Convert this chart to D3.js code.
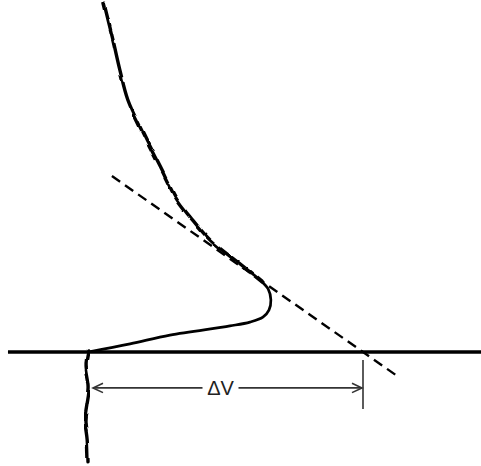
<!DOCTYPE html>
<html>
<head>
<meta charset="utf-8">
<script src="https://cdn.jsdelivr.net/npm/d3@7"></script>
<style>
  html, body { margin: 0; padding: 0; background: #fff; }
  svg { display: block; }
</style>
</head>
<body>
<svg id="chart" width="481" height="466"></svg>
<script>
// Signal trace: falling branch above the baseline (noisy), the peak loop
// back to the baseline (smooth), and the tail below the baseline (noisy).
// x = volume (0 at onset, 100 where the tangent meets the baseline), y = signal.
const upperX = [5.8, 9.1, 11.6, 14.5, 20.0, 26.2, 32.4, 37.1, 44.4, 55.3, 63.3];
const upperY = [99.1, 88.6, 80.1, 71.6, 62.2, 52.6, 43.2, 38.4, 31.8, 25.0, 19.9];
const loopX  = [63.3, 65.5, 66.5, 65.8, 63.6, 58.9, 51.6, 29.8, 15.3, 0];
const loopY  = [19.9, 17.9, 14.8, 11.9, 9.9, 8.5, 7.4, 4.8, 2.3, 0];
const tailX  = [0, -0.7, 0.4, -0.4, -1.1, -0.3, 0];
const tailY  = [0, -3.7, -10.2, -15.1, -19.3, -25.0, -31.5];

// Tangent line (dashed) and the baseline
const tangentX = [8.7, 113.5];
const tangentY = [50, -7.4];
const baseX = [-29.1, 143];
const baseY = [0, 0];

// ΔV dimension: from onset to tangent intersection
const deltaStart = 0;
const deltaEnd = 100;
const deltaLevel = -10.2;
const tickY = [-2.3, -16.2];
const deltaLabel = "ΔV";

const svg = d3.select("#chart");
const x = d3.scaleLinear().domain([0, 100]).range([88, 363]);
const y = d3.scaleLinear().domain([0, 100]).range([352, 0]);

const defs = svg.append("defs");
const wob = defs.append("filter").attr("id", "wobble")
  .attr("x", "-20%").attr("y", "-5%").attr("width", "140%").attr("height", "110%");
wob.append("feTurbulence").attr("type", "fractalNoise")
  .attr("baseFrequency", 0.085).attr("numOctaves", 1).attr("seed", 3).attr("result", "n");
wob.append("feDisplacementMap").attr("in", "SourceGraphic").attr("in2", "n")
  .attr("scale", 4).attr("xChannelSelector", "R").attr("yChannelSelector", "G");

const line = d3.line().x(d => x(d[0])).y(d => y(d[1])).curve(d3.curveCatmullRom.alpha(0.5));
const zip = (a, b) => a.map((v, i) => [v, b[i]]);

// baseline
svg.append("path")
  .attr("d", d3.line()(zip(baseX, baseY).map(d => [x(d[0]), y(d[1])])))
  .attr("stroke", "#000").attr("stroke-width", 3.5).attr("fill", "none");

// tangent
svg.append("path")
  .attr("d", d3.line()(zip(tangentX, tangentY).map(d => [x(d[0]), y(d[1])])))
  .attr("stroke", "#000").attr("stroke-width", 2.4).attr("fill", "none")
  .attr("stroke-dasharray", "10,6");

// trace
svg.append("path").attr("d", line(zip(upperX, upperY)))
  .attr("stroke", "#000").attr("stroke-width", 3.4).attr("fill", "none")
  .attr("stroke-linecap", "round").attr("filter", "url(#wobble)");
svg.append("path").attr("d", line(zip(loopX, loopY)))
  .attr("stroke", "#000").attr("stroke-width", 2.7).attr("fill", "none")
  .attr("stroke-linecap", "round");
svg.append("path").attr("d", line(zip(tailX, tailY)))
  .attr("stroke", "#000").attr("stroke-width", 3.4).attr("fill", "none")
  .attr("stroke-linecap", "round").attr("filter", "url(#wobble)");

// ΔV dimension
const ay = y(deltaLevel);
const ax0 = x(deltaStart) + 5, ax1 = x(deltaEnd) - 1;
const mid = (ax0 + ax1) / 2 - 7;
const dim = svg.append("g").attr("stroke", "#333").attr("stroke-width", 1.6).attr("fill", "none");
dim.append("line").attr("x1", x(deltaEnd)).attr("x2", x(deltaEnd))
  .attr("y1", y(tickY[0])).attr("y2", y(tickY[1]));
dim.append("line").attr("x1", ax0).attr("x2", mid - 18).attr("y1", ay).attr("y2", ay);
dim.append("line").attr("x1", mid + 18).attr("x2", ax1).attr("y1", ay).attr("y2", ay);
dim.append("path").attr("d", `M${ax0 + 10},${ay - 4.7}L${ax0},${ay}L${ax0 + 10},${ay + 4.7}`);
dim.append("path").attr("d", `M${ax1 - 10},${ay - 4.7}L${ax1},${ay}L${ax1 - 10},${ay + 4.7}`);

svg.append("text").attr("x", mid).attr("y", ay + 7)
  .attr("text-anchor", "middle")
  .attr("font-family", "'Liberation Sans', Arial, sans-serif")
  .attr("font-size", 20).attr("fill", "#222")
  .text(deltaLabel);
</script>
</body>
</html>
